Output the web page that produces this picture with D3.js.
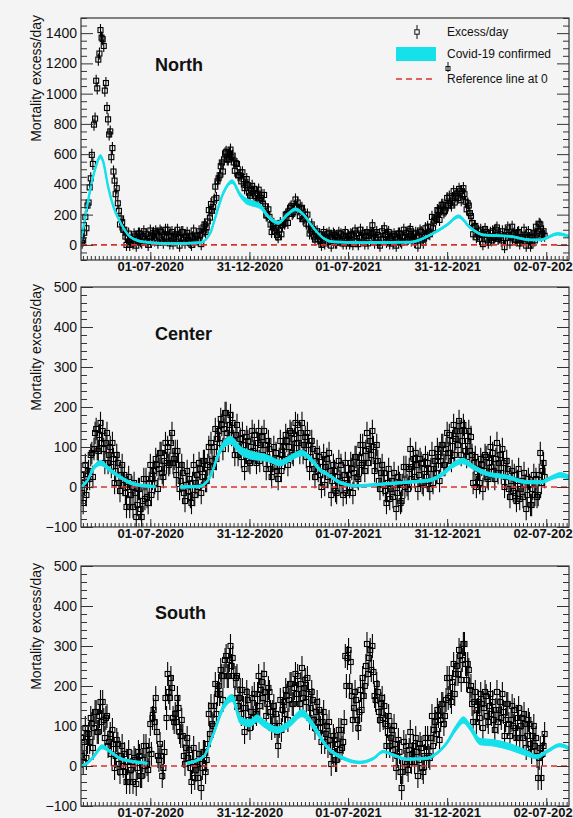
<!DOCTYPE html>
<html>
<head>
<meta charset="utf-8">
<script src="https://cdn.jsdelivr.net/npm/d3@7"></script>
<style>
  body { margin: 0; background: #ffffff; }
  text { font-family: "Liberation Sans", Arial, Helvetica, sans-serif; }
</style>
</head>
<body>
<svg id="chart"></svg>
<script>
// time range of the x axis and sampling of the excess points
const startDate = "2020-02-24";
const endDate = "2022-08-13";
const stepDays = 2;
const tickDates = ["2020-07-01", "2020-12-31", "2021-07-01", "2021-12-31", "2022-07-02"];

// Excess/day, one value every stepDays days starting at startDate
const northExcess = [
  60,15, 30,80, 185,110, 260,280, 380,440, 595,535, 795,835, 1085,1035, 1225,1265, 1420,1370,
  1360,1315, 1020,1070, 905,830, 730,750, 580,640, 485,425, 335,375, 275,225, 135,175, 150,100,
  100,55, 0,50, 75,0, 20,40, 10,70, 55,-5, 35,75, 75,25, 15,55, 90,40,
  70,25, 0,50, 95,20, 60,80, 30,90, 75,15, 55,95, 85,35, 15,55, 100,50,
  100,55, 10,60, 85,10, 50,70, 40,100, 55,-5, 45,85, 85,35, 15,55, 80,30,
  60,15, 0,50, 95,20, 40,60, 30,90, 65,5, 75,115, 135,85, 115,155, 230,180,
  270,225, 250,300, 385,310, 420,440, 460,520, 545,485, 565,605, 615,565, 565,605, 630,580,
  590,545, 490,540, 535,460, 460,480, 420,480, 435,375, 395,435, 395,345, 325,365, 390,340,
  370,325, 290,340, 365,290, 310,330, 270,330, 255,195, 195,235, 185,135, 85,125, 140,90,
  110,65, 50,100, 145,70, 130,150, 140,200, 205,145, 205,245, 255,205, 215,255, 300,250,
  280,235, 190,240, 245,170, 180,200, 140,200, 135,75, 95,135, 105,55, 35,75, 90,40,
  70,25, 0,50, 85,10, 50,70, 20,80, 55,-5, 35,75, 65,15, 15,55, 80,30,
  70,25, 10,60, 85,10, 40,60, 10,70, 65,5, 55,95, 75,25, 5,45, 100,50,
  80,35, 10,60, 85,10, 60,80, 70,130, 75,15, 45,85, 65,15, -5,35, 90,40,
  110,65, 20,70, 85,10, 40,60, 10,70, 55,-5, 35,75, 75,25, 15,55, 100,50,
  80,35, 40,90, 105,30, 50,70, 20,80, 55,-5, 55,95, 85,35, 15,55, 110,60,
  120,75, 70,120, 185,110, 160,180, 170,230, 225,165, 225,265, 265,215, 225,265, 310,260,
  320,275, 260,310, 355,280, 320,340, 310,370, 355,295, 335,375, 335,285, 235,275, 260,210,
  190,145, 70,120, 125,50, 70,90, 40,100, 65,5, 65,105, 85,35, 15,55, 80,30,
  90,45, 50,100, 115,40, 50,70, 30,90, 45,-15, 45,85, 115,65, 15,55, 120,70,
  80,35, 30,80, 85,10, 30,50, 40,100, 55,-5, 45,85, 45,-5, 15,55, 80,30,
  120,75, 90,140, 135,60, 70,90, 60
];
const centerExcess = [
  30,-15, -40,10, 55,-20, 20,40, 20,80, 85,25, 95,135, 145,95, 90,130, 160,110,
  140,95, 60,110, 135,60, 80,100, 50,110, 70,10, 40,80, 60,10, -10,30, 55,5,
  30,-15, -50,0, 25,-50, -20,0, -50,10, -15,-75, -45,-5, -5,-55, -75,-35, 20,-30,
  20,-25, -40,10, 55,-20, 20,40, 10,70, 55,-5, 45,85, 85,35, 25,65, 110,60,
  100,55, 60,110, 135,60, 70,90, 30,90, 55,-5, 15,55, 35,-15, -35,5, 40,-10,
  20,-25, -40,10, 55,-20, 10,30, 0,60, 45,-15, 25,65, 65,15, 15,55, 100,50,
  110,65, 50,100, 145,70, 120,140, 110,170, 155,95, 145,185, 185,135, 115,155, 180,130,
  160,115, 80,130, 155,80, 100,120, 75,135, 105,45, 85,125, 115,65, 60,100, 140,90,
  130,85, 60,110, 140,65, 105,125, 80,140, 105,45, 75,115, 95,45, 25,65, 100,50,
  85,40, 20,70, 115,40, 80,100, 70,130, 115,55, 100,140, 135,85, 80,120, 160,110,
  155,110, 85,135, 160,85, 105,125, 75,135, 105,45, 75,115, 95,45, 25,65, 90,40,
  75,30, 0,50, 80,5, 50,70, 25,85, 40,-20, 15,55, 40,-10, -15,25, 65,15,
  55,10, -20,30, 60,-15, 10,30, 0,60, 45,-15, 35,75, 75,25, 20,60, 105,55,
  105,60, 40,90, 135,60, 95,115, 80,140, 100,40, 65,105, 65,15, -5,35, 55,5,
  35,-10, -40,10, 45,-30, -5,15, -25,35, 5,-55, -15,25, 10,-40, -35,5, 50,0,
  50,5, -5,45, 95,20, 50,70, 25,85, 55,-5, 30,70, 60,10, 5,45, 75,25,
  60,15, -5,45, 85,10, 45,65, 35,95, 75,15, 65,105, 105,55, 55,95, 135,85,
  130,85, 65,115, 155,80, 120,140, 105,165, 140,80, 115,155, 140,90, 75,115, 140,90,
  125,80, 10,60, 75,0, 25,45, 10,70, 55,-5, 40,80, 75,25, 20,60, 100,50,
  85,40, 20,70, 110,35, 60,80, 35,95, 60,0, 25,65, 45,-5, -25,15, 40,-10,
  30,-15, -35,15, 45,-30, -5,15, -25,35, 5,-55, -20,20, 5,-45, -45,-5, 30,-20,
  20,-25, -20,30, 85,10, 40,60, 25
];
const southExcess = [
  70,25, 10,60, 95,20, 60,80, 60,120, 105,45, 95,135, 135,85, 85,125, 160,110,
  160,115, 70,120, 125,50, 60,80, 30,90, 55,-5, 25,65, 55,5, -15,25, 50,0,
  30,-15, -40,10, 35,-40, -10,10, -40,20, 15,-45, -5,35, 25,-25, -25,15, 50,0,
  50,5, -10,40, 105,30, 120,140, 110,170, 85,25, 15,55, 25,-25, -5,35, 170,120,
  230,185, 170,220, 195,120, 110,130, 110,170, 145,85, 75,115, 75,25, 5,45, 70,20,
  40,-5, -40,10, 45,-30, -10,10, -30,30, 5,-55, -5,35, 35,-15, 15,55, 130,80,
  150,105, 100,150, 205,130, 180,200, 180,240, 225,165, 225,265, 275,225, 225,265, 300,250,
  270,225, 170,220, 225,150, 170,190, 130,190, 145,85, 145,185, 165,115, 95,135, 170,120,
  180,135, 130,180, 225,150, 190,210, 170,230, 185,125, 155,195, 185,135, 95,135, 150,100,
  130,85, 50,100, 165,90, 140,160, 130,190, 175,115, 165,205, 205,155, 155,195, 230,180,
  225,180, 155,205, 245,170, 195,215, 160,220, 180,120, 145,185, 165,115, 95,135, 160,110,
  140,95, 60,110, 135,60, 80,100, 50,110, 65,5, 35,75, 65,15, 15,55, 90,40,
  90,45, 60,110, 275,200, 270,290, 200,260, 175,115, 145,185, 165,115, 95,135, 190,140,
  220,175, 200,250, 305,230, 270,290, 240,300, 235,175, 165,205, 185,135, 115,155, 170,120,
  150,105, 50,100, 125,50, 70,90, 40,100, 55,-5, 25,65, 35,-15, -55,-15, 60,10,
  50,5, -10,40, 85,10, 30,50, 10,70, 35,-25, 15,55, 45,-5, -15,25, 70,20,
  70,25, 20,70, 125,50, 90,110, 80,140, 125,65, 115,155, 155,105, 125,165, 220,170,
  220,175, 160,210, 255,180, 230,250, 230,290, 275,215, 265,305, 305,255, 215,255, 240,190,
  200,155, 110,160, 185,110, 140,160, 120,180, 155,95, 145,185, 175,125, 110,150, 180,130,
  160,115, 90,140, 185,110, 140,160, 120,180, 135,75, 115,155, 155,105, 75,115, 150,100,
  140,95, 70,120, 145,70, 100,120, 70,130, 105,45, 75,115, 105,55, 35,75, 100,50,
  70,25, -30,20, 45,-30, 30,50, 80
];
const northErr = 40, centerErr = 28, southErr = 30;

// Covid-19 confirmed band: knot day (from startDate), value, half width
const northCovidDays = [0,8,17,26,36,41,50,60,73,91,115,165,220,239,245,263,279,294,305,313,331,346,364,381,396,411,429,447,466,521,608,645,676,697,719,743,793,830,848,880,901];
const northCovid = [30,186,365,500,585,550,385,252,146,53,20,8,15,80,146,345,418,330,290,278,255,186,146,200,235,200,113,46,20,15,18,66,133,188,113,66,56,33,33,73,56];
const northCovidErr = [8,8,8,10,12,10,8,8,6,6,6,6,6,6,8,10,12,14,18,18,16,12,10,10,10,8,6,6,6,6,6,6,8,10,8,6,6,6,6,8,8];

const centerCovidDays = [0,12,23,36,54,72,96,128,137,160,183,220,238,257,276,294,313,344,368,386,408,429,442,455,477,508,564,602,644,668,687,705,724,750,787,824,848,872,885,904];
const centerCovid = [0,17,47,60,42,25,8,2,1,null,0,2,25,92,117,92,80,72,60,72,85,62,42,32,12,3,8,12,17,33,55,65,50,33,25,12,12,25,30,22];
const centerCovidErr = [3,4,5,6,5,4,4,3,3,0,3,3,4,8,10,10,10,8,7,7,7,6,5,4,4,3,3,3,4,5,6,7,6,5,5,4,4,5,6,5];

const southCovidDays = [0,11,23,39,54,72,97,122,160,196,226,245,263,279,294,312,325,337,362,386,408,430,454,485,515,540,558,577,601,638,657,675,694,706,718,737,761,792,823,841,860,884,906];
const southCovid = [0,7,23,48,36,19,11,7,null,7,23,82,148,170,115,107,119,107,90,107,132,98,48,19,9,19,36,27,17,19,32,57,98,115,98,61,58,48,32,23,36,52,40];
const southCovidErr = [2,3,4,5,4,3,3,3,0,3,3,5,8,9,9,9,9,9,8,8,9,8,5,4,3,3,3,3,3,3,3,4,7,8,8,8,8,8,7,5,4,4,4];

const panelNames = ["North", "Center", "South"];
const legendLabels = ["Excess/day", "Covid-19 confirmed", "Reference line at 0"];

// ---------------------------------------------------------------
const W = 573, H = 818;
const left = 81, right = 569;
const bg = "#f4f4f4";
const cyan = "#14e1ea";
const red = "#d8332f";

const svg = d3.select("#chart").attr("width", W).attr("height", H);
svg.append("rect").attr("width", W).attr("height", H).attr("fill", bg);

const parse = d3.timeParse("%Y-%m-%d");
const t0 = parse(startDate);
const dayDate = d => d3.timeDay.offset(t0, d);
const fmt = d3.timeFormat("%d-%m-%Y");

const x = d3.scaleTime().domain([t0, parse(endDate)]).range([left, right]);

const majors = tickDates.map(parse);
// minor ticks: 25 subdivisions of the major spacing
const minorStep = (majors[1] - majors[0]) / 25;
const minors = [];
for (let t = +majors[0]; t >= +x.domain()[0]; t -= minorStep) minors.push(new Date(t));
for (let t = +majors[0] + minorStep; t <= +x.domain()[1]; t += minorStep) minors.push(new Date(t));

const panels = [
  { name: panelNames[0], excess: northExcess, err: northErr, cd: northCovidDays, cv: northCovid, ce: northCovidErr,
    top: 18, bottom: 260, dom: [-100, 1500], major: d3.range(0, 1401, 200), minor: d3.range(-100, 1501, 50), legend: true },
  { name: panelNames[1], excess: centerExcess, err: centerErr, cd: centerCovidDays, cv: centerCovid, ce: centerCovidErr,
    top: 287, bottom: 527, dom: [-100, 500], major: d3.range(-100, 501, 100), minor: d3.range(-100, 501, 20) },
  { name: panelNames[2], excess: southExcess, err: southErr, cd: southCovidDays, cv: southCovid, ce: southCovidErr,
    top: 566, bottom: 806, dom: [-100, 500], major: d3.range(-100, 501, 100), minor: d3.range(-100, 501, 20) }
];

panels.forEach((p, k) => {
  const y = d3.scaleLinear().domain(p.dom).range([p.bottom, p.top]);
  const g = svg.append("g");

  const clipId = "clip" + k;
  svg.append("clipPath").attr("id", clipId)
    .append("rect").attr("x", left).attr("y", p.top).attr("width", right - left).attr("height", p.bottom - p.top);
  const plot = g.append("g").attr("clip-path", `url(#${clipId})`);

  // excess points with error bars
  const pts = p.excess.map((v, i) => ({ date: dayDate(i * stepDays), v: v }));
  plot.append("g").selectAll("line").data(pts).join("line")
    .attr("x1", d => x(d.date)).attr("x2", d => x(d.date))
    .attr("y1", d => y(d.v + p.err)).attr("y2", d => y(d.v - p.err))
    .attr("stroke", "#000").attr("stroke-width", 1.1);
  plot.append("g").selectAll("rect").data(pts).join("rect")
    .attr("x", d => x(d.date) - 2.5).attr("y", d => y(d.v) - 2.5)
    .attr("width", 5).attr("height", 5)
    .attr("fill", "none").attr("stroke", "#000").attr("stroke-width", 1.1);

  // reference line at 0
  plot.append("line")
    .attr("x1", left).attr("x2", right).attr("y1", y(0)).attr("y2", y(0))
    .attr("stroke", red).attr("stroke-width", 1.6).attr("stroke-dasharray", "6,4");

  // covid band
  const cov = p.cd.map((d, i) => ({ date: dayDate(d), v: p.cv[i], e: p.ce[i] }));
  const area = d3.area().defined(d => d.v != null)
    .x(d => x(d.date)).y0(d => y(d.v - d.e)).y1(d => y(d.v + d.e))
    .curve(d3.curveMonotoneX);
  const line = d3.line().defined(d => d.v != null)
    .x(d => x(d.date)).y(d => y(d.v)).curve(d3.curveMonotoneX);
  plot.append("path").datum(cov).attr("d", area).attr("fill", cyan).attr("stroke", cyan).attr("stroke-width", 1);
  plot.append("path").datum(cov).attr("d", line).attr("fill", "none").attr("stroke", cyan).attr("stroke-width", 2.4);

  // y axis (ticks inside the frame)
  const yAxis = g.append("g").attr("transform", `translate(${left},0)`)
    .call(d3.axisLeft(y).tickValues(p.major).tickSize(-12).tickPadding(4).tickFormat(d3.format("d")));
  yAxis.selectAll("text").attr("font-size", 14).attr("fill", "#111");
  g.append("g").attr("transform", `translate(${left},0)`)
    .call(d3.axisLeft(y).tickValues(p.minor.filter(v => !p.major.includes(v))).tickSize(-6).tickFormat(""));
  g.append("g").attr("transform", `translate(${right},0)`)
    .call(d3.axisRight(y).tickValues(p.major).tickSize(-12).tickFormat(""));
  g.append("g").attr("transform", `translate(${right},0)`)
    .call(d3.axisRight(y).tickValues(p.minor.filter(v => !p.major.includes(v))).tickSize(-6).tickFormat(""));

  // x axis
  const xAxis = g.append("g").attr("transform", `translate(0,${p.bottom})`)
    .call(d3.axisBottom(x).tickValues(majors).tickSize(-8).tickPadding(2).tickFormat(fmt));
  xAxis.selectAll("text").attr("font-size", 13).attr("font-weight", "bold").attr("fill", "#111");
  g.append("g").attr("transform", `translate(0,${p.bottom})`)
    .call(d3.axisBottom(x).tickValues(minors).tickSize(-4).tickFormat(""));

  g.selectAll(".domain").remove();
  g.selectAll(".tick line").attr("stroke", "#333");

  // frame
  g.append("rect").attr("x", left).attr("y", p.top).attr("width", right - left).attr("height", p.bottom - p.top)
    .attr("fill", "none").attr("stroke", "#333").attr("stroke-width", 1.2);

  // axis title
  g.append("text").attr("transform", `translate(41,${p.top - 3}) rotate(-90)`)
    .attr("text-anchor", "end").attr("font-size", 14).attr("fill", "#111")
    .text("Mortality excess/day");

  // region label
  g.append("text").attr("x", 155).attr("y", p.top + 53)
    .attr("font-size", 18).attr("font-weight", "bold").attr("fill", "#111")
    .text(p.name);

  if (p.legend) {
    const lg = g.append("g");
    // Excess/day marker
    lg.append("line").attr("x1", 417).attr("x2", 417).attr("y1", 25).attr("y2", 39).attr("stroke", "#111");
    lg.append("rect").attr("x", 414.8).attr("y", 29.8).attr("width", 4.4).attr("height", 4.4)
      .attr("fill", bg).attr("stroke", "#111");
    lg.append("text").attr("x", 447).attr("y", 36).attr("font-size", 12).attr("fill", "#111").text(legendLabels[0]);
    // covid box
    lg.append("rect").attr("x", 396).attr("y", 47).attr("width", 40).attr("height", 14).attr("fill", cyan);
    lg.append("text").attr("x", 447).attr("y", 58).attr("font-size", 12).attr("fill", "#111").text(legendLabels[1]);
    // stray marker drawn over the legend text
    lg.append("line").attr("x1", 448).attr("x2", 448).attr("y1", 62).attr("y2", 72).attr("stroke", "#111");
    lg.append("rect").attr("x", 446).attr("y", 66.5).attr("width", 4).attr("height", 4)
      .attr("fill", "none").attr("stroke", "#111");
    // reference line
    lg.append("line").attr("x1", 396).attr("x2", 436).attr("y1", 79).attr("y2", 79)
      .attr("stroke", red).attr("stroke-width", 1.6).attr("stroke-dasharray", "6,4");
    lg.append("text").attr("x", 447).attr("y", 83).attr("font-size", 12).attr("fill", "#111").text(legendLabels[2]);
  }
});
</script>
</body>
</html>
